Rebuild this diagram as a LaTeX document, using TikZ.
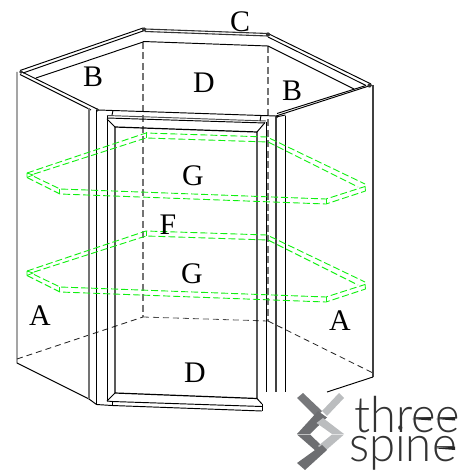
\documentclass[tikz,border=0pt]{standalone}
\usepackage{fontspec}
\setmainfont{Liberation Serif}
\newfontfamily\logofont{Lato Light}
\definecolor{shelfgreen}{HTML}{10F010}
\definecolor{logodark}{HTML}{6D6E71}
\definecolor{logomid}{HTML}{77787B}
\definecolor{logolight}{HTML}{BBBDBF}
\tikzset{
  edge/.style={line width=0.95bp,black,line join=round},
  grayedge/.style={line width=1.1bp,black!55},
  backdash/.style={line width=1.2bp,black!55,dash pattern=on 7bp off 3.5bp},
  floordash/.style={line width=0.8bp,black!85,dash pattern=on 6bp off 4bp},
  shelf/.style={line width=0.9bp,shelfgreen,dash pattern=on 7bp off 3bp},
  shelfend/.style={line width=0.8bp,shelfgreen},
  lbl/.style={font=\fontsize{30}{30}\selectfont,inner sep=0pt,text=black},
  corner/.style={fill=black!80,draw=none},
  logotext/.style={font=\logofont\fontsize{50}{50}\selectfont,inner sep=0pt,text=black!80}
}
\begin{document}
\begin{tikzpicture}[x=1bp,y=-1bp]
\useasboundingbox (0,0) rectangle (470,470);
% outer walls
\draw[edge] (17,72) -- (17,363) -- (89,399) -- (96.5,404.5) -- (112,405.5);
\draw[grayedge,black!75] (373,85) -- (373,377);
\draw[edge] (373,377) -- (327,392);
% back dashed
\draw[backdash] (143,42) -- (143,317);
\draw[backdash] (268,46) -- (268,321);
\draw[floordash] (17,359) -- (143,317);
\draw[floordash,black!70] (143,317) -- (268,321);
\draw[floordash] (268,321) -- (373,373);
% top rim, left wing back
\draw[edge] (20,70.5) -- (143,28);
\draw[edge] (23,73) -- (143,31);
\draw[edge] (36,78) -- (143,42);
% back top
\draw[edge,line width=1.1bp,black!80] (145,29) -- (268,33.5);
\draw[edge,line width=1.1bp,black!80] (145,31.5) -- (268,36);
\draw[edge] (143,41.5) -- (268,46);
% right wing back
\draw[edge] (268,33.5) -- (371,84);
\draw[edge] (268,37) -- (366,85.5);
\draw[edge] (268,46) -- (354,89);
% front wings
\draw[edge] (20,71) -- (98,109.5);
\draw[edge] (20,74.5) -- (91,110);
\draw[edge] (372,85) -- (276,116);
\draw[edge] (366,85.5) -- (277,113.5);
% corner blobs
\fill[corner] (21,72) circle (1.9bp);
\fill[corner] (144,29.5) circle (2.1bp);
\fill[corner] (268,34.5) circle (2.1bp);
\fill[corner] (369.5,85.5) circle (2.1bp);
\fill[corner] (97.5,110) circle (1.6bp);
\fill[corner] (276.5,117) circle (1.6bp);
% front stiles
\draw[grayedge] (89,108) -- (89,399);
\draw[edge] (96.5,110) -- (96.5,404.5);
\draw[grayedge,black!75] (276,117) -- (276,392);
\draw[edge] (285.5,116) -- (285.5,392);
\draw[edge] (276,117) -- (285.5,115);
% front top rail
\draw[edge] (98,110) -- (276,116);
\draw[edge,black!70] (107,115.5) -- (266,121);
\draw[edge] (107,118) -- (265,123);
\draw[edge] (113,110.5) -- (112,115);
\draw[edge] (261,115.5) -- (260,121);
% door frame
\draw[edge,line width=1bp] (107,116) -- (107,401);
\draw[edge,line width=1.2bp] (115,127) -- (115,393) -- (257,398.5) -- (257,132) -- cycle;
\draw[edge] (107,119) -- (115,127);
\draw[edge] (107,401) -- (115,393);
\draw[edge] (265,122.5) -- (257,132);
\draw[edge,line width=1bp] (266,122) -- (266,392);
\draw[edge] (257,398.5) -- (262,404);
\draw[edge] (107,401) -- (112,401.5) -- (262,406.5);
\draw[edge] (112,400.5) -- (112,406);
\draw[edge] (112,405.5) -- (262,411);
\draw[edge] (262,404) -- (262,411);
% shelves
\foreach \d in {0,98}{
  \begin{scope}[yshift=-\d bp]
  \draw[shelf] (27,173) -- (146,133) -- (267,137) -- (365,184);
  \draw[shelf] (34,174) -- (146,138) -- (268,142) -- (358,187);
  \draw[shelf] (27,177.5) -- (60,194) -- (326,204) -- (365.5,191);
  \draw[shelf] (34,176.5) -- (60,189) -- (326,199) -- (365,186.5);
  \draw[shelfend] (27,173) -- (27,177.5) (27,173) -- (33,175) -- (27,177.5);
  \draw[shelfend] (59.5,189) -- (59.5,194);
  \draw[shelfend] (326,199) -- (326,204);
  \draw[shelfend] (365,186) -- (365.5,191);
  \draw[shelfend] (146,132.5) -- (146,138);
  \end{scope}
}
% labels
\node[lbl] (c1) at (240,22) {C};
\node[lbl] (b1) at (93,77) {B};
\node[lbl] (d1) at (204,83) {D};
\node[lbl] (b2) at (292,91) {B};
\node[lbl] (g1) at (193,176) {G};
\node[lbl] (f1) at (168,225) {F};
\node[lbl] (g2) at (192,274) {G};
\node[lbl] (a1) at (40,316) {A};
\node[lbl] (a2) at (340,321) {A};
\node[lbl] (d2) at (195,373) {D};
% logo
\fill[logomid] (297,398) -- (303,393) -- (322,411) -- (316,417) -- cycle;
\fill[logolight] (322,411) -- (339,393) -- (344,398) -- (327,416) -- cycle;
\fill[logodark] (297,434) -- (318,411) -- (327,417.5) -- (310,434) -- cycle;
\fill[logolight] (323,418) -- (344,434) -- (332,434) -- (316.5,423) -- cycle;
\fill[logodark] (297,434.5) -- (310,434.5) -- (322,446) -- (317,452) -- cycle;
\fill[logolight] (332,434.5) -- (344,434.5) -- (324,452) -- (318,446) -- cycle;
\fill[logodark] (322,445) -- (327,450) -- (305,470) -- (297,463) -- cycle;
\node[logotext,anchor=base west] (three) at (354,432) {\scalebox{.94}[1]{three}};
\node[logotext,anchor=base west] (spine) at (349,461.5) {\scalebox{.95}[1]{spine}};
% tapered bars of the e's
\fill[black!85] (412,419) -- (431,417) -- (431,420.5) -- cycle;
\fill[black!85] (436,419) -- (455,417) -- (455,420.5) -- cycle;
\fill[black!85] (436,448.5) -- (455,446.5) -- (455,450) -- cycle;
\end{tikzpicture}
\end{document}
